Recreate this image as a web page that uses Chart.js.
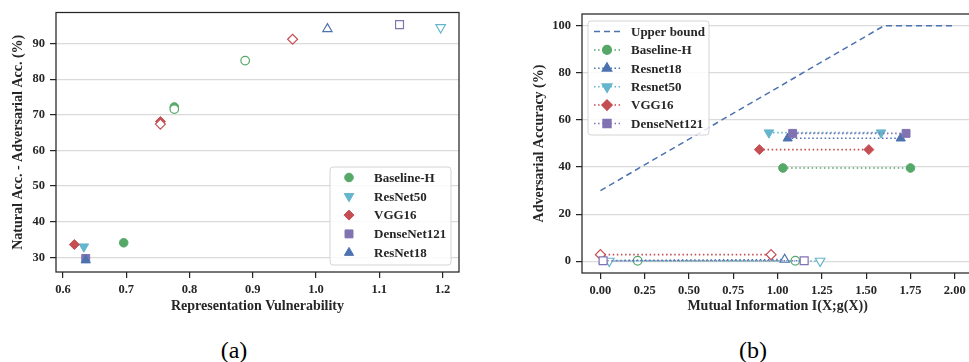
<!DOCTYPE html>
<html>
<head>
  <title>Vulnerability vs accuracy</title>
  <script src="https://cdn.jsdelivr.net/npm/chart.js"></script>
  <style>
    body { margin: 0; width: 969px; height: 362px; overflow: hidden; position: relative; background: #fff; }
    canvas { position: absolute; top: 0; }
    .cap { position: absolute; top: 337px; width: 60px; margin-left: -30px; text-align: center;
           font-family: 'Liberation Serif', serif; font-size: 24px; color: #000; }
  </style>
</head>
<body>
  <canvas id="chartA" width="480" height="318" style="left:0"></canvas>
  <canvas id="chartB" width="500" height="318" style="left:480px"></canvas>
  <div class="cap" style="left:234px">(a)</div>
  <div class="cap" style="left:753px">(b)</div>
  <script>
    // ---- (a) representation vulnerability vs accuracy gap ----
    const modelsA = ['Baseline-H', 'ResNet50', 'VGG16', 'DenseNet121', 'ResNet18'];
    const vulnSolid = [[0.696, 0.776], [0.633], [0.618, 0.754], [0.636], [0.636]];
    const gapSolid  = [[34.1, 72.2], [33.0], [33.6, 68.1], [29.7], [29.2]];
    const vulnOpen  = [[0.776, 0.888], [1.197], [0.754, 0.963], [1.132], [1.018]];
    const gapOpen   = [[71.6, 85.2], [94.5], [67.4, 91.2], [95.3], [94.1]];
    const xTicksA = [0.6, 0.7, 0.8, 0.9, 1.0, 1.1, 1.2];
    const yTicksA = [30, 40, 50, 60, 70, 80, 90];

    // ---- (b) mutual information vs adversarial accuracy ----
    const boundMI  = [0, 1.6, 2.0];
    const boundAcc = [30, 100, 100];
    const modelsB = ['Baseline-H', 'Resnet18', 'Resnet50', 'VGG16', 'DenseNet121'];
    const miSolid  = [[1.03, 1.75], [1.057, 1.695], [0.951, 1.584], [0.897, 1.515], [1.085, 1.725]];
    const accSolid = [[39.6, 39.6], [52.2, 52.2], [54.6, 54.6], [47.4, 47.4], [54.3, 54.3]];
    const miOpen   = [[0.21, 1.10], [0.02, 1.04], [0.05, 1.24], [0.0, 0.963], [0.015, 1.15]];
    const accOpen  = [[0.2, 0.2], [0.3, 0.7], [0.1, 0.1], [2.8, 2.8], [0.2, 0.2]];
    const xTicksB = [0, 0.25, 0.5, 0.75, 1.0, 1.25, 1.5, 1.75, 2.0];
    const yTicksB = [0, 20, 40, 60, 80, 100];

    const FONT = 'Liberation Serif';
    const INK = '#262626';
    const style = {
      'Baseline-H':  { color: '#55A868', pointStyle: 'circle', radius: 4.3, rotation: 0 },
      'ResNet50':    { color: '#64B5CD', pointStyle: 'triangle', radius: 5.5, rotation: 180 },
      'Resnet50':    { color: '#64B5CD', pointStyle: 'triangle', radius: 5.5, rotation: 180 },
      'VGG16':       { color: '#C44E52', pointStyle: 'rectRot', radius: 5, rotation: 0 },
      'DenseNet121': { color: '#8172B2', pointStyle: 'rect', radius: 5.6, rotation: 0 },
      'ResNet18':    { color: '#4C72B0', pointStyle: 'triangle', radius: 5.3, rotation: 0 },
      'Resnet18':    { color: '#4C72B0', pointStyle: 'triangle', radius: 5.3, rotation: 0 }
    };

    const pts = (xs, ys) => xs.map((x, i) => ({ x: x, y: ys[i] }));

    // frame around plot area (seaborn "ticks" look with full box)
    const frame = {
      id: 'frame',
      afterDatasetsDraw(chart) {
        const a = chart.chartArea, ctx = chart.ctx;
        ctx.save();
        ctx.strokeStyle = INK;
        ctx.lineWidth = 1.25;
        ctx.strokeRect(a.left, a.top, a.right - a.left, a.bottom - a.top);
        ctx.restore();
      }
    };

    // legend drawn inside the axes like matplotlib does
    function boxLegend(entries, place) {
      return {
        id: 'boxLegend',
        afterDraw(chart) {
          const ctx = chart.ctx, a = chart.chartArea;
          const p = place(a);
          ctx.save();
          ctx.beginPath();
          ctx.roundRect(p.x, p.y, p.w, p.h, 3);
          ctx.fillStyle = 'rgba(255,255,255,0.85)';
          ctx.fill();
          ctx.strokeStyle = '#d4d4d4';
          ctx.lineWidth = 1;
          ctx.stroke();
          ctx.font = 'bold 13px "' + FONT + '"';
          ctx.textBaseline = 'middle';
          entries.forEach((e, i) => {
            const y = p.y + p.first + i * p.step;
            if (e.line) {
              ctx.beginPath();
              ctx.setLineDash(e.dash);
              ctx.strokeStyle = e.color;
              ctx.lineWidth = 1.5;
              ctx.moveTo(p.x + p.lineFrom, y);
              ctx.lineTo(p.x + p.lineTo, y);
              ctx.stroke();
              ctx.setLineDash([]);
            }
            if (e.s) {
              ctx.fillStyle = e.s.color;
              ctx.strokeStyle = e.s.color;
              Chart.helpers.drawPoint(ctx, {
                pointStyle: e.s.pointStyle, radius: e.s.radius,
                rotation: e.s.rotation, borderWidth: 1
              }, p.x + p.marker, y);
            }
            ctx.fillStyle = INK;
            ctx.fillText(e.label, p.x + p.text, y + 1);
          });
          ctx.restore();
        }
      };
    }

    function fixedTicks(values) {
      return function (scale) { scale.ticks = values.map(v => ({ value: v })); };
    }

    function axis(title, min, max, ticks, fmt, isX, fitSize) {
      return {
        type: 'linear',
        min: min,
        max: max,
        afterBuildTicks: fixedTicks(ticks),
        afterFit(scale) { if (isX) scale.height = fitSize; else scale.width = fitSize; },
        border: { display: false },
        grid: {
          drawOnChartArea: !isX,
          color: '#dadada',
          lineWidth: 1.2,
          drawTicks: true,
          tickLength: 6,
          tickColor: INK,
          tickWidth: 1.25
        },
        ticks: {
          padding: isX ? 4 : 5,
          color: INK,
          font: { family: FONT, size: 12.5, weight: 'bold' },
          callback: fmt
        },
        title: {
          display: true,
          text: title,
          color: INK,
          padding: { top: 4, bottom: 3 },
          font: { family: FONT, size: 14, weight: 'bold' }
        }
      };
    }

    // ---------- chart (a) ----------
    const dsA = [];
    modelsA.forEach((m, i) => {
      const s = style[m];
      dsA.push({
        label: m, data: pts(vulnSolid[i], gapSolid[i]),
        pointStyle: s.pointStyle, pointRadius: s.radius, pointRotation: s.rotation,
        backgroundColor: s.color, borderColor: s.color, pointBorderWidth: 1
      });
    });
    modelsA.forEach((m, i) => {
      const s = style[m];
      dsA.push({
        label: m + ' (std)', data: pts(vulnOpen[i], gapOpen[i]),
        pointStyle: s.pointStyle, pointRadius: s.radius, pointRotation: s.rotation,
        backgroundColor: '#ffffff', borderColor: s.color, pointBorderWidth: 1.2
      });
    });
    dsA.forEach((d, i) => { d.order = dsA.length - i; });

    new Chart(document.getElementById('chartA'), {
      type: 'scatter',
      data: { datasets: dsA },
      options: {
        responsive: false,
        animation: false,
        layout: { padding: { left: 6, top: 10, right: 21, bottom: 0 } },
        plugins: { legend: { display: false }, tooltip: { enabled: false } },
        scales: {
          x: axis('Representation Vulnerability', 0.589, 1.226, xTicksA, v => v.toFixed(1), true, 46),
          y: axis('Natural Acc. - Adversarial Acc. (%)', 25.9, 98.7, yTicksA, v => String(v), false, 50)
        }
      },
      plugins: [frame, boxLegend(
        modelsA.map(m => ({ label: m, s: style[m] })),
        a => ({ x: a.right - 129, y: a.bottom - 105, w: 121, h: 98,
                first: 10.5, step: 18.8, marker: 19, text: 44 })
      )]
    });

    // ---------- chart (b) ----------
    const dsB = [{
      label: 'Upper bound', data: pts(boundMI, boundAcc),
      showLine: true, borderColor: '#4C72B0', borderWidth: 1.5, borderDash: [6, 4],
      pointRadius: 0, fill: false
    }];
    modelsB.forEach((m, i) => {
      const s = style[m];
      dsB.push({
        label: m, data: pts(miSolid[i], accSolid[i]),
        showLine: true, borderColor: s.color, borderWidth: 1.6, borderDash: [1.5, 2.6],
        pointStyle: s.pointStyle, pointRadius: s.radius, pointRotation: s.rotation,
        pointBackgroundColor: s.color, pointBorderColor: s.color, pointBorderWidth: 1
      });
      dsB.push({
        label: m + ' (std)', data: pts(miOpen[i], accOpen[i]),
        showLine: true, borderColor: s.color, borderWidth: 1.6, borderDash: [1.5, 2.6],
        pointStyle: s.pointStyle, pointRadius: s.radius, pointRotation: s.rotation,
        pointBackgroundColor: '#ffffff', pointBorderColor: s.color, pointBorderWidth: 1.2
      });
    });
    dsB.forEach((d, i) => { d.order = dsB.length - i; });

    new Chart(document.getElementById('chartB'), {
      type: 'scatter',
      data: { datasets: dsB },
      options: {
        responsive: false,
        animation: false,
        layout: { padding: { left: 47, top: 14, right: 2, bottom: 0 } },
        plugins: { legend: { display: false }, tooltip: { enabled: false } },
        scales: {
          x: axis('Mutual Information I(X;g(X))', -0.104, 2.104, xTicksB, v => v.toFixed(2), true, 45),
          y: axis('Adversarial Accuracy (%)', -5, 105, yTicksB, v => String(v), false, 55)
        }
      },
      plugins: [frame, boxLegend(
        [{ label: 'Upper bound', line: true, dash: [6, 4], color: '#4C72B0' }].concat(
          modelsB.map(m => ({ label: m, s: style[m], line: true, dash: [1.5, 2.6], color: style[m].color }))),
        a => ({ x: a.left + 6, y: a.top + 7, w: 121, h: 114,
                first: 10.5, step: 18.4, lineFrom: 6, lineTo: 32, marker: 19, text: 43 })
      )]
    });
  </script>
</body>
</html>
